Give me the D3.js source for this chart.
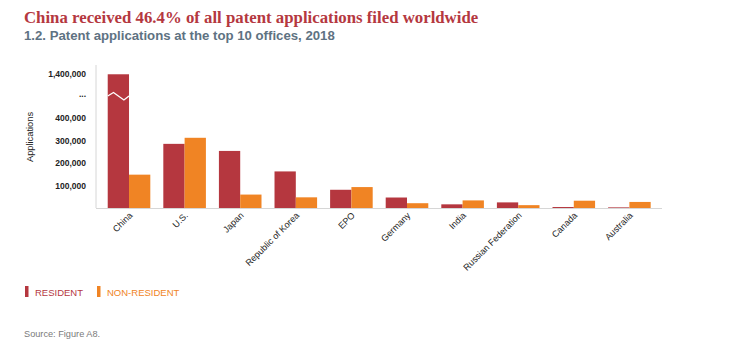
<!DOCTYPE html>
<html>
<head>
<meta charset="utf-8">
<script src="https://cdn.jsdelivr.net/npm/d3@7"></script>
<style>
  html, body { margin: 0; padding: 0; background: #fff; }
  svg { display: block; }
</style>
</head>
<body>
<svg id="chart" width="748" height="351"></svg>
<script>
const categories = ["China", "U.S.", "Japan", "Republic of Korea", "EPO", "Germany", "India", "Russian Federation", "Canada", "Australia"];
const resident = [1393815, 285095, 253630, 162561, 81000, 46617, 16289, 24926, 4349, 2853];
const nonResident = [148187, 312046, 59682, 47431, 93000, 21281, 33766, 12661, 32389, 26932];
const seriesNames = ["RESIDENT", "NON-RESIDENT"];
const tickValues = [100000, 200000, 300000, 400000, 900000, 1400000];
const tickLabels = ["100,000", "200,000", "300,000", "400,000", "...", "1,400,000"];
const breakValue = 900000;

const colors = ["#b5373f", "#f08424"];
const svg = d3.select("#chart");

// Titles
svg.append("text").attr("x", 24).attr("y", 23)
  .attr("font-family", "'Liberation Serif', serif").attr("font-weight", "bold")
  .attr("font-size", 16.8).attr("fill", "#b5383f")
  .text("China received 46.4% of all patent applications filed worldwide");
svg.append("text").attr("x", 24).attr("y", 40)
  .attr("font-family", "'Liberation Sans', Arial, sans-serif").attr("font-weight", "bold")
  .attr("font-size", 13.2).attr("fill", "#5e7282")
  .text("1.2. Patent applications at the top 10 offices, 2018");

// Scales
const x = d3.scaleBand().domain(categories).range([96.6, 661.8]).paddingInner(0.234).paddingOuter(0.2);
const xs = d3.scaleBand().domain([0, 1]).range([0, x.bandwidth()]);
const y = d3.scaleLinear().domain([0, 400000, 1400000]).range([208, 118, 74]);

// Axes lines
svg.append("line").attr("x1", 96).attr("x2", 96).attr("y1", 65).attr("y2", 208)
  .attr("stroke", "#d6d6d6").attr("stroke-width", 1);

// Y axis
const yAxis = d3.axisLeft(y).tickValues(tickValues).tickSize(0).tickPadding(10)
  .tickFormat((d, i) => tickLabels[i]);
const yg = svg.append("g").attr("transform", "translate(96,0)").call(yAxis);
yg.select(".domain").remove();
yg.selectAll("text").attr("font-family", "'Liberation Sans', Arial, sans-serif")
  .attr("font-size", 8.5).attr("fill", "#222").attr("font-weight", "bold")
  .filter((d) => d === breakValue).attr("dy", "0.1em");

svg.append("text")
  .attr("transform", "translate(33,137) rotate(-90)")
  .attr("text-anchor", "middle")
  .attr("font-family", "'Liberation Sans', Arial, sans-serif")
  .attr("font-size", 9.3).attr("fill", "#222")
  .text("Applications");

// Bars
const groups = svg.append("g").selectAll("g").data(categories).join("g")
  .attr("transform", d => `translate(${x(d)},0)`);
groups.selectAll("rect")
  .data((d, i) => [resident[i], nonResident[i]])
  .join("rect")
  .attr("x", (d, j) => xs(j))
  .attr("width", xs.bandwidth())
  .attr("y", d => y(d))
  .attr("height", d => y(0) - y(d))
  .attr("fill", (d, j) => colors[j]);

// Break marker on bars that exceed the break
categories.forEach((c, i) => {
  if (resident[i] > 400000) {
    const x0 = x(c), w = xs.bandwidth(), yb = y(breakValue);
    const path = d3.line()([
      [x0, yb], [x0 + w * 0.27, yb - 3.5], [x0 + w * 0.76, yb + 4], [x0 + w, yb]
    ]);
    svg.append("path").attr("d", path).attr("fill", "none")
      .attr("stroke", "#fff").attr("stroke-width", 1.3);
  }
});

// Baseline
svg.append("line").attr("x1", 96).attr("x2", 662).attr("y1", 208.5).attr("y2", 208.5)
  .attr("stroke", "#d6d6d6").attr("stroke-width", 1.2);

// X labels
svg.append("g").selectAll("text").data(categories).join("text")
  .attr("transform", d => `translate(${x(d) + x.bandwidth() / 2 + 4},${216}) rotate(-45)`)
  .attr("text-anchor", "end")
  .attr("font-family", "'Liberation Sans', Arial, sans-serif")
  .attr("font-size", 9).attr("fill", "#222")
  .text(d => d);

// Legend
const legend = svg.append("g").attr("transform", "translate(25,286)");
seriesNames.forEach((n, i) => {
  const lx = i === 0 ? 0 : 72;
  legend.append("rect").attr("x", lx).attr("y", 0).attr("width", 3.5).attr("height", 11).attr("fill", colors[i]);
  legend.append("text").attr("x", lx + 10).attr("y", 9.5)
    .attr("font-family", "'Liberation Sans', Arial, sans-serif")
    .attr("font-size", 9.5).attr("fill", colors[i]).text(n);
});

svg.append("text").attr("x", 24).attr("y", 337)
  .attr("font-family", "'Liberation Sans', Arial, sans-serif")
  .attr("font-size", 9.2).attr("fill", "#7a7a7a")
  .text("Source: Figure A8.");
</script>
</body>
</html>
